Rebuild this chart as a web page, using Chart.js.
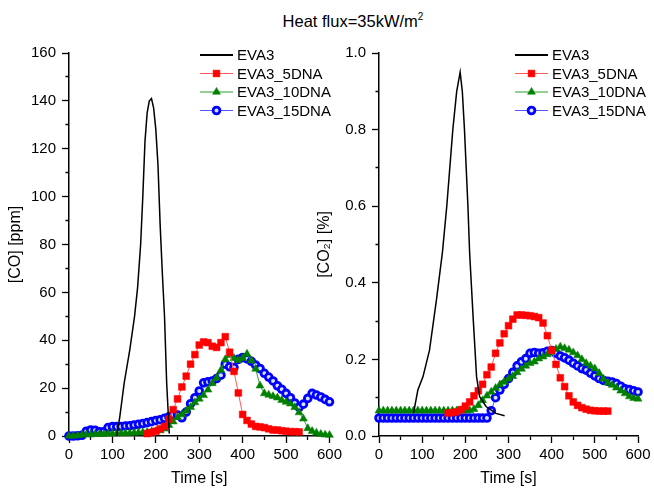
<!DOCTYPE html>
<html lang="en">
<head>
<meta charset="UTF-8">
<title>Heat flux=35kW/m2</title>
<script src="https://cdn.jsdelivr.net/npm/chart.js"></script>
<style>
  body { margin: 0; width: 654px; height: 488px; background: #fff; position: relative; overflow: hidden;
         font-family: "Liberation Sans", Arial, sans-serif; }
  #title { position: absolute; left: 253px; width: 200px; top: 11px; text-align: center; font-size: 16.5px; color: #000; }
  #title sup { font-size: 10px; }
  canvas { position: absolute; top: 0; }
  #coChart { left: 0; }
  #co2Chart { left: 300px; }
</style>
</head>
<body>
<div id="title">Heat flux=35kW/m<sup>2</sup></div>
<canvas id="coChart" width="345" height="488"></canvas>
<canvas id="co2Chart" width="354" height="488"></canvas>

<script>
// sampling times (s)
function steps(from, to) { const out = []; for (let t = from; t <= to; t += 10) out.push(t); return out; }

const seriesNames = ["EVA3", "EVA3_5DNA", "EVA3_10DNA", "EVA3_15DNA"];

// ---- CO [ppm] ----
const coBlackTime = [110, 117, 127, 140, 151, 158, 165, 170, 175, 180, 185, 190, 195, 200, 205, 210, 215, 220, 225, 231];
const coBlack = [0, 8, 22, 36, 50, 62, 80, 100, 123, 135, 140, 141, 137, 128, 113, 88, 68, 50, 22, 1];

const coRedTime = steps(180, 530);
const coRed = [1, 1.5, 2, 3, 4, 7, 11, 15.5, 20.5, 25,
  30, 34, 38, 39.3, 39, 37.5, 37, 39, 41.5, 35,
  27, 18, 9, 6.5, 5, 4, 3.8, 3.5, 3, 2.5,
  2.5, 2.2, 2, 1.8, 1.8, 1.7];

const coGreenTime = steps(0, 600);
const coGreen = [0, 0, 0.2, 0.4, 0.6, 0.6, 0.7, 0.8, 0.8, 1,
  1, 1, 1.1, 1.2, 1.2, 1.3, 1.4, 1.5, 1.6, 1.8,
  2, 2.3, 3, 4.5, 6, 7.8, 9, 10.5, 12, 14,
  15.5, 17, 19.3, 22, 24.3, 27.5, 32, 33.8, 32.5, 31.7,
  32.5, 34.3, 31.5, 28, 21, 17.8, 17.2, 16.6, 16, 15,
  14.2, 13.5, 12, 9.8, 7.2, 3.2, 2, 1.3, 0.8, 0.5,
  0.4];

const coBlueTime = steps(0, 600);
const coBlue = [0, 0, 0.1, 0.3, 2, 2.5, 2.4, 1.8, 1.8, 3.5,
  3.9, 3.9, 4, 4.2, 4.3, 4.6, 4.9, 5.2, 5.6, 6,
  6.5, 6.8, 7.4, 8, 8.8, 8.8, 7.6, 10, 13.5, 16,
  18.8, 22.2, 22.6, 23, 24, 25.4, 30, 28.9, 28.6, 32,
  32.8, 32.2, 31.2, 29.6, 28.2, 26.2, 24.6, 23, 21, 19.5,
  17.8, 16, 13.8, 12, 13.3, 15.7, 17.8, 17.1, 16.3, 15.3,
  14.3];

// ---- CO2 [%] ----
const co2BlackTime = [80, 90, 102, 117, 133, 147, 157, 171, 180, 188, 193, 198, 206, 210, 218, 226, 233, 248, 271, 291];
const co2Black = [0.06, 0.12, 0.155, 0.224, 0.355, 0.48, 0.6, 0.8, 0.9, 0.95, 0.9, 0.8, 0.6, 0.477, 0.311, 0.155, 0.103, 0.077, 0.059, 0.053];

const co2RedTime = steps(160, 530);
const co2Red = [0.06, 0.061, 0.063, 0.069, 0.078, 0.089, 0.105, 0.118, 0.135, 0.16,
  0.18, 0.216, 0.243, 0.267, 0.288, 0.305, 0.316, 0.316, 0.315, 0.314,
  0.312, 0.309, 0.295, 0.262, 0.224, 0.187, 0.152, 0.129, 0.105, 0.089,
  0.08, 0.074, 0.07, 0.067, 0.066, 0.065, 0.065, 0.065];

const co2GreenTime = steps(0, 600);
const co2Green = [0.066, 0.066, 0.066, 0.066, 0.066, 0.066, 0.066, 0.066, 0.066, 0.066,
  0.066, 0.066, 0.066, 0.066, 0.066, 0.066, 0.066, 0.066, 0.066, 0.066,
  0.066, 0.067, 0.07, 0.08, 0.093, 0.105, 0.115, 0.125, 0.134, 0.141,
  0.149, 0.156, 0.166, 0.175, 0.183, 0.19, 0.194, 0.202, 0.207, 0.213,
  0.219, 0.227, 0.233, 0.229, 0.225, 0.218, 0.21, 0.2, 0.19, 0.183,
  0.176, 0.164, 0.149, 0.139, 0.133, 0.126, 0.118, 0.111, 0.103, 0.099,
  0.097];

const co2BlueTime = steps(0, 600);
const co2Blue = [0.047, 0.047, 0.047, 0.047, 0.047, 0.047, 0.047, 0.047, 0.047, 0.047,
  0.047, 0.047, 0.047, 0.047, 0.047, 0.047, 0.047, 0.047, 0.047, 0.047,
  0.047, 0.047, 0.047, 0.047, 0.047, 0.047, 0.066, 0.1, 0.12, 0.135,
  0.15, 0.166, 0.183, 0.194, 0.202, 0.216, 0.218, 0.216, 0.217, 0.221,
  0.223, 0.216, 0.209, 0.204, 0.198, 0.19, 0.183, 0.176, 0.172, 0.164,
  0.157, 0.15, 0.145, 0.143, 0.141, 0.137, 0.13, 0.123, 0.121, 0.118,
  0.115];

const FONT = '"Liberation Sans", Arial, sans-serif';

function pts(times, values) { return times.map((t, i) => ({ x: t, y: values[i] })); }

function makeDatasets(black, red, green, blue) {
  const common = { tension: 0, clip: false, fill: false };
  return [
    Object.assign({ label: seriesNames[0], data: black, borderColor: "#000", borderWidth: 1.5, pointRadius: 0 }, common),
    Object.assign({ label: seriesNames[1], data: red, borderColor: "#ff5a5a", borderWidth: 1,
      pointStyle: "rect", pointRadius: 4.8, pointBackgroundColor: "#ff0000", pointBorderColor: "#ff0000", pointBorderWidth: 0.5 }, common),
    Object.assign({ label: seriesNames[2], data: green, borderColor: "#2aa02a", borderWidth: 1,
      pointStyle: "triangle", pointRadius: 4.6, pointBackgroundColor: "#008000", pointBorderColor: "#008000", pointBorderWidth: 0.5 }, common),
    Object.assign({ label: seriesNames[3], data: blue, borderColor: "#5555ff", borderWidth: 1,
      pointStyle: "circle", pointRadius: 3.4, pointBackgroundColor: "#d8e0ff", pointBorderColor: "#0000ff", pointBorderWidth: 2.8 }, common)
  ];
}

// legend drawn inside the plot, line + marker like the original
const insideLegend = {
  id: "insideLegend",
  afterDraw(chart, args, opts) {
    const ctx = chart.ctx;
    ctx.save();
    ctx.font = "15px " + FONT;
    ctx.textBaseline = "middle";
    chart.data.datasets.forEach((ds, i) => {
      const y = opts.y + i * opts.gap;
      ctx.strokeStyle = ds.borderColor;
      ctx.lineWidth = i === 0 ? 2 : 1.2;
      ctx.beginPath();
      ctx.moveTo(opts.x, y);
      ctx.lineTo(opts.x + 33, y);
      ctx.stroke();
      if (ds.pointRadius > 0) {
        ctx.fillStyle = ds.pointBackgroundColor;
        ctx.strokeStyle = ds.pointBorderColor;
        ctx.lineWidth = ds.pointBorderWidth;
        Chart.helpers.drawPoint(ctx, { pointStyle: ds.pointStyle, radius: ds.pointRadius, borderWidth: ds.pointBorderWidth, rotation: 0 }, opts.x + 16.5, y);
      }
      ctx.fillStyle = "#000";
      ctx.fillText(ds.label, opts.x + 37, y + 1);
    });
    ctx.restore();
  }
};

function makeOptions(yMax, yStep, isMajorY, fmtY, yTitle, yWidth, rightPad, titlePad, legendX) {
  const tl = 7;
  return {
    responsive: false,
    animation: false,
    devicePixelRatio: 1,
    layout: { padding: { top: 53, right: rightPad, left: 0, bottom: 0 } },
    plugins: {
      legend: { display: false },
      tooltip: { enabled: false },
      insideLegend: { x: legendX, y: 55, gap: 18.5 }
    },
    scales: {
      x: {
        type: "linear", min: 0, max: 600,
        afterFit: (s) => { s.height = 52; },
        border: { display: true, color: "#000", width: 1.5 },
        grid: {
          drawOnChartArea: false, drawTicks: true, tickLength: tl, tickColor: "#000", tickWidth: 1.3,
          tickBorderDash: (c) => (c.tick && c.tick.value % 100 === 0) ? [] : [3.5, 50]
        },
        ticks: {
          stepSize: 50, autoSkip: false, maxRotation: 0, padding: 3, color: "#000",
          font: { family: FONT, size: 15 },
          callback: (v) => (v % 100 === 0 ? String(v) : "")
        },
        title: { display: true, text: "Time [s]", color: "#000", font: { family: FONT, size: 16 }, padding: { top: 0, bottom: 0 } }
      },
      y: {
        type: "linear", min: 0, max: yMax,
        afterFit: (s) => { s.width = yWidth; },
        border: { display: true, color: "#000", width: 1.5 },
        grid: {
          drawOnChartArea: false, drawTicks: true, tickLength: tl, tickColor: "#000", tickWidth: 1.3,
          tickBorderDash: (c) => (c.tick && isMajorY(c.tick.value)) ? [] : [0, tl - 3.5, 3.5, 50]
        },
        ticks: {
          stepSize: yStep, autoSkip: false, padding: 6, color: "#000",
          font: { family: FONT, size: 15 },
          callback: (v) => (isMajorY(v) ? fmtY(v) : "")
        },
        title: { display: true, text: yTitle, color: "#000", font: { family: FONT, size: 16 }, padding: { top: titlePad, bottom: 0 } }
      }
    }
  };
}

new Chart(document.getElementById("coChart"), {
  type: "line",
  data: { datasets: makeDatasets(pts(coBlackTime, coBlack), pts(coRedTime, coRed), pts(coGreenTime, coGreen), pts(coBlueTime, coBlue)) },
  options: makeOptions(160, 10, (v) => Math.round(v) % 20 === 0, (v) => String(v), "[CO] [ppm]", 69, 15, 6, 200),
  plugins: [insideLegend]
});

new Chart(document.getElementById("co2Chart"), {
  type: "line",
  data: { datasets: makeDatasets(pts(co2BlackTime, co2Black), pts(co2RedTime, co2Red), pts(co2GreenTime, co2Green), pts(co2BlueTime, co2Blue)) },
  options: makeOptions(1, 0.1, (v) => Math.round(v * 10) % 2 === 0, (v) => v.toFixed(1), "[CO\u2082] [%]", 79, 16, 15, 215),
  plugins: [insideLegend]
});
</script>
</body>
</html>
